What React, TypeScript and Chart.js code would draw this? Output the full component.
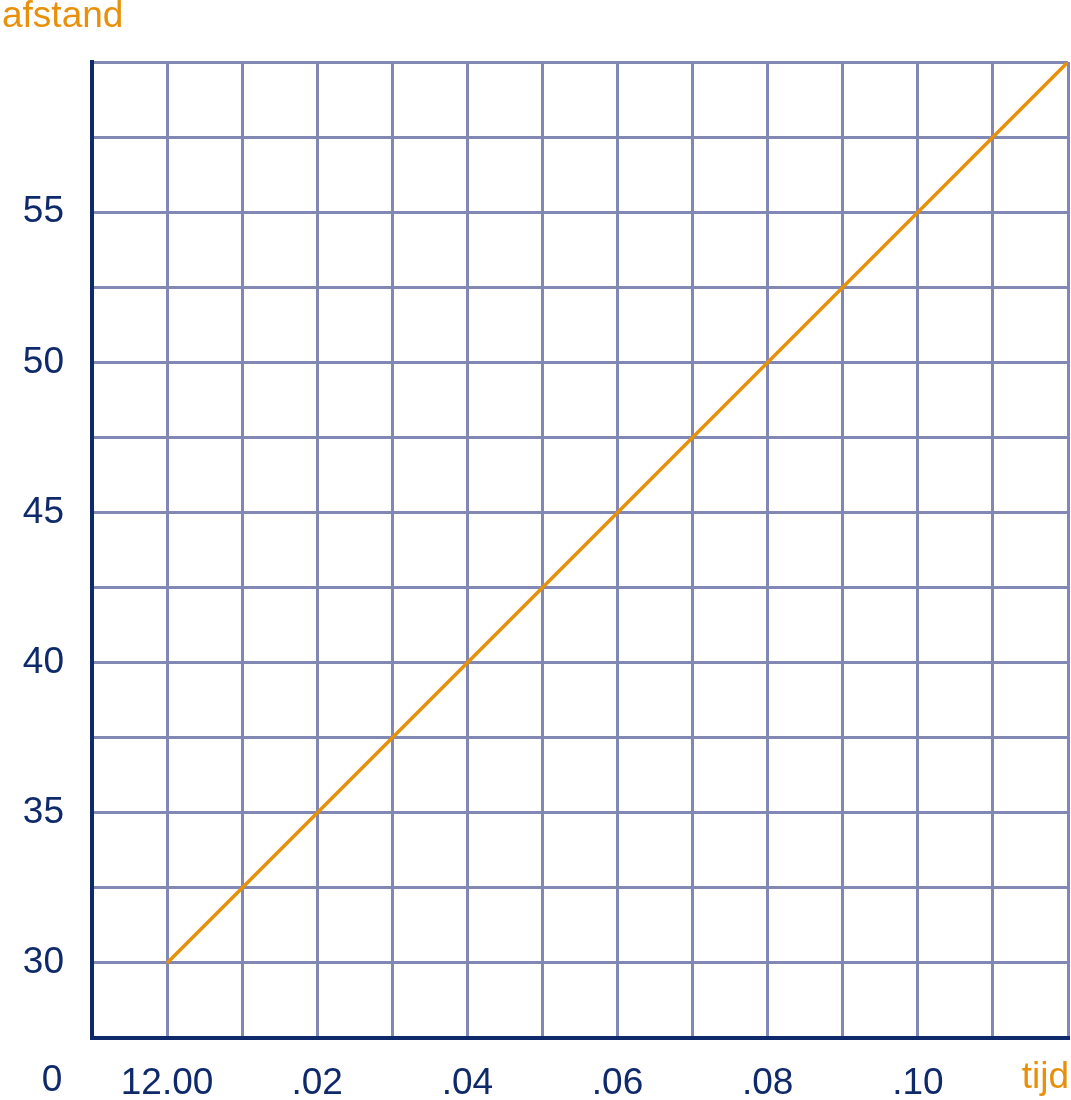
import React, { useEffect, useRef } from "react";
import { Chart, registerables } from "chart.js";

Chart.register(...registerables);

// Data
const timeMinutes = [0, 12];
const distance = [30, 60];
const xTickLabels: Record<number, string> = { 0: "12.00", 2: ".02", 4: ".04", 6: ".06", 8: ".08", 10: ".10" };
const yTickLabels: Record<number, string> = { 30: "30", 35: "35", 40: "40", 45: "45", 50: "50", 55: "55" };
const xAxisTitle = "tijd";
const yAxisTitle = "afstand";
const originLabel = "0";

const NAVY = "#0f2a6b";
const GRID = "#8088b3";
const ORANGE = "#e8900a";
const FONT = "'Liberation Sans', Arial, sans-serif";

export default function App() {
  const ref = useRef<HTMLCanvasElement | null>(null);
  useEffect(() => {
    if (!ref.current) return;
    const textPlugin = {
      id: "extraText",
      afterDraw(chart: any) {
        const ctx = chart.ctx;
        ctx.save();
        ctx.font = `37px ${FONT}`;
        ctx.textBaseline = "alphabetic";
        ctx.textAlign = "left";
        ctx.fillStyle = ORANGE;
        ctx.fillText(yAxisTitle, 2, 27);
        ctx.textAlign = "right";
        ctx.fillText(xAxisTitle, 1069, 1088);
        ctx.fillStyle = NAVY;
        ctx.textAlign = "center";
        ctx.fillText(originLabel, 52, 1091);
        ctx.restore();
      },
    };
    const chart = new Chart(ref.current, {
      type: "scatter",
      data: {
        datasets: [
          {
            data: timeMinutes.map((t, i) => ({ x: t, y: distance[i] })),
            showLine: true,
            borderColor: ORANGE,
            borderWidth: 3.5,
            pointRadius: 0,
            fill: false,
          },
        ],
      },
      options: {
        animation: false,
        responsive: false,
        maintainAspectRatio: false,
        layout: { padding: { top: 62, right: 3, left: 0, bottom: 0 } },
        plugins: { legend: { display: false }, tooltip: { enabled: false } },
        scales: {
          x: {
            type: "linear",
            min: -1,
            max: 12,
            afterFit: (s: any) => {
              s.height = 62;
              s.paddingLeft = 0;
              s.paddingRight = 0;
            },
            afterBuildTicks: (s: any) => {
              const t = [];
              for (let v = -1; v <= 12; v++) t.push({ value: v });
              s.ticks = t;
            },
            ticks: {
              autoSkip: false,
              maxRotation: 0,
              padding: 24,
              color: NAVY,
              font: { family: FONT, size: 37 },
              callback: (v: any) => xTickLabels[Number(v)] ?? "",
            },
            grid: { color: GRID, lineWidth: 3, drawTicks: false },
            border: { color: NAVY, width: 4 },
          },
          y: {
            type: "linear",
            min: 27.5,
            max: 60,
            afterFit: (s: any) => {
              s.width = 92;
              s.paddingTop = 0;
              s.paddingBottom = 0;
            },
            afterBuildTicks: (s: any) => {
              const t = [];
              for (let i = 0; i <= 13; i++) t.push({ value: 27.5 + i * 2.5 });
              s.ticks = t;
            },
            ticks: {
              autoSkip: false,
              padding: 28,
              color: NAVY,
              font: { family: FONT, size: 37 },
              callback: (v: any) => yTickLabels[Number(v)] ?? "",
            },
            grid: { color: GRID, lineWidth: 3, drawTicks: false },
            border: { color: NAVY, width: 4 },
          },
        },
      },
      plugins: [textPlugin],
    });
    return () => chart.destroy();
  }, []);
  return (
    <div style={{ position: "absolute", left: 0, top: 0, width: 1071, height: 1100, background: "#fff" }}>
      <canvas ref={ref} width={1071} height={1100} style={{ width: 1071, height: 1100 }} />
    </div>
  );
}
